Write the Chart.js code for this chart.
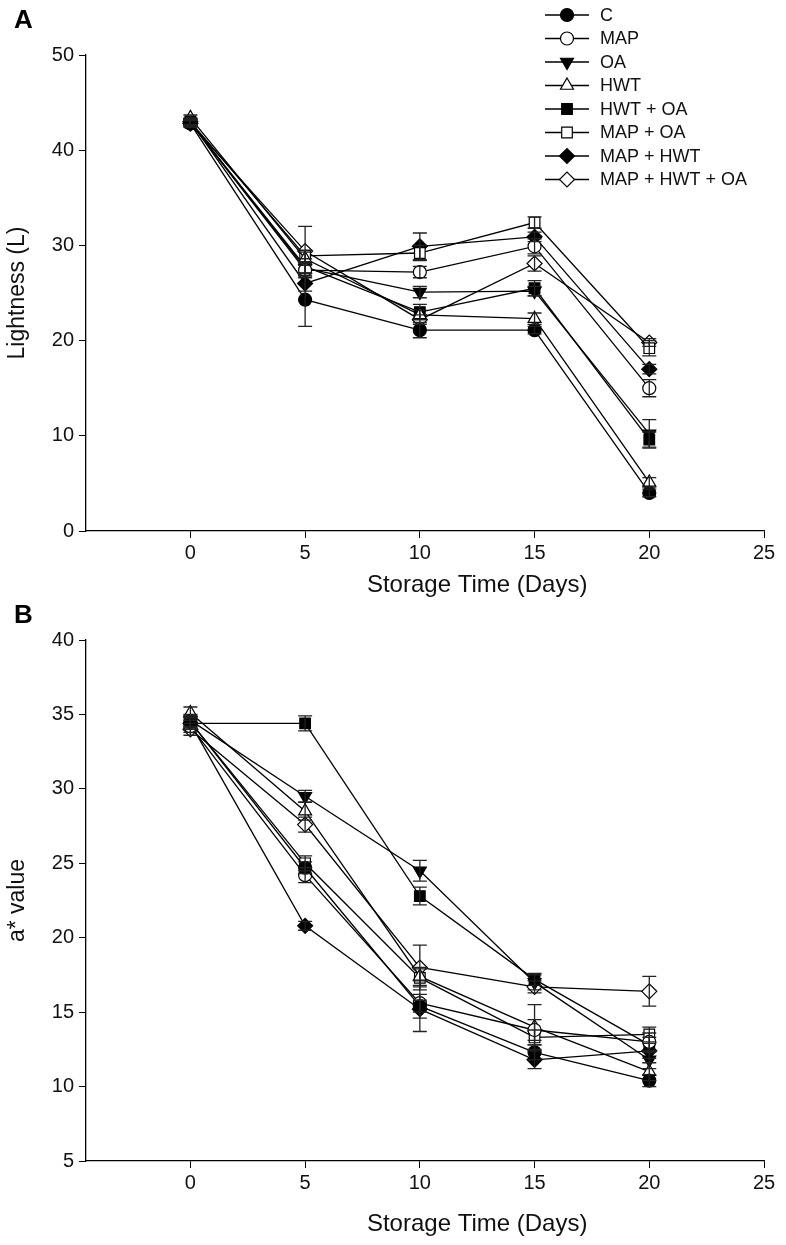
<!DOCTYPE html>
<html>
<head>
<meta charset="utf-8">
<script src="https://cdn.jsdelivr.net/npm/chart.js@4.4.1/dist/chart.umd.min.js"></script>
<style>
  body { margin: 0; background: #fff; }
  .panel { position: relative; width: 786px; }
  canvas { display: block; }
  .tag { position: absolute; left: 14px; font: bold 26px "Liberation Sans", Arial, sans-serif; color: #000; }
</style>
</head>
<body>
<div class="panel" style="height:600px">
  <div class="tag" style="top:4px">A</div>
  <canvas id="chartA" width="786" height="600" style="width:786px;height:600px"></canvas>
</div>
<div class="panel" style="height:645px">
  <div class="tag" style="top:-1px">B</div>
  <canvas id="chartB" width="786" height="645" style="width:786px;height:645px"></canvas>
</div>
<script>
// treatments and storage days
const treatments = ["C", "MAP", "OA", "HWT", "HWT + OA", "MAP + OA", "MAP + HWT", "MAP + HWT + OA"];
const days = [0, 5, 10, 15, 20];
const xTicks = [0, 5, 10, 15, 20, 25];

// Panel A - Lightness (L)
const lightC        = [42.8, 24.3, 21.1, 21.1, 4.0];
const lightMAP      = [42.9, 27.4, 27.2, 29.9, 15.0];
const lightOA       = [42.9, 27.6, 25.1, 25.2, 10.2];
const lightHWT      = [43.4, 28.6, 22.7, 22.3, 5.1];
const lightHWTOA    = [42.9, 27.8, 23.0, 25.5, 9.6];
const lightMAPOA    = [43.0, 28.9, 29.2, 32.4, 19.2];
const lightMAPHWT   = [43.0, 26.0, 29.9, 30.9, 17.0];
const lightMAPHWTOA = [42.8, 29.4, 22.2, 28.1, 19.8];

const lightErrC        = [0.4, 2.8, 0.8, 0.4, 0.4];
const lightErrMAP      = [0.3, 0.8, 0.6, 0.8, 0.9];
const lightErrOA       = [0.3, 0.5, 0.6, 0.5, 1.5];
const lightErrHWT      = [0.3, 0.7, 0.5, 0.6, 0.5];
const lightErrHWTOA    = [0.4, 0.8, 0.8, 0.8, 0.8];
const lightErrMAPOA    = [0.4, 0.6, 0.8, 0.6, 0.8];
const lightErrMAPHWT   = [0.3, 0.8, 1.4, 0.5, 0.5];
const lightErrMAPHWTOA = [0.3, 2.6, 0.5, 0.8, 0.4];

// Panel B - a* value
const aC        = [34.5, 24.7, 15.4, 12.3, 10.4];
const aMAP      = [34.2, 24.2, 15.6, 13.8, 13.0];
const aOA       = [34.6, 29.5, 24.5, 17.0, 11.8];
const aHWT      = [35.1, 28.5, 17.4, 14.0, 11.0];
const aHWTOA    = [34.4, 34.4, 22.8, 17.2, 12.8];
const aMAPOA    = [34.5, 25.0, 17.3, 13.3, 13.5];
const aMAPHWT   = [34.4, 20.8, 15.2, 11.8, 12.4];
const aMAPHWTOA = [34.0, 27.6, 18.0, 16.7, 16.4];

const aErrC        = [0.4, 0.4, 1.7, 0.5, 0.4];
const aErrMAP      = [0.4, 0.5, 0.6, 0.7, 0.6];
const aErrOA       = [0.4, 0.4, 0.7, 0.5, 0.6];
const aErrHWT      = [0.4, 0.6, 0.6, 1.5, 0.6];
const aErrHWTOA    = [0.4, 0.5, 0.6, 0.4, 0.5];
const aErrMAPOA    = [0.4, 0.5, 0.6, 0.5, 0.5];
const aErrMAPHWT   = [0.4, 0.3, 0.6, 0.6, 0.5];
const aErrMAPHWTOA = [0.4, 0.5, 1.5, 0.4, 1.0];

// marker look for each treatment
const markers = [
    { style: 'circle',   fill: '#000', rot: 0,   r: 6.5 },
    { style: 'circle',   fill: '#fff', rot: 0,   r: 6.5 },
    { style: 'triangle', fill: '#000', rot: 180, r: 7.5 },
    { style: 'triangle', fill: '#fff', rot: 0,   r: 7.5 },
    { style: 'rect',     fill: '#000', rot: 0,   r: 7.5 },
    { style: 'rect',     fill: '#fff', rot: 0,   r: 7.5 },
    { style: 'rectRot',  fill: '#000', rot: 0,   r: 7.5 },
    { style: 'rectRot',  fill: '#fff', rot: 0,   r: 7.5 }
];

const FONT = '"Liberation Sans", Arial, sans-serif';

// vertical error bars with caps, placed through the scales
const errorBars = {
    id: 'errorBars',
    afterDatasetsDraw(chart) {
        const ctx = chart.ctx;
        const xs = chart.scales.x, ys = chart.scales.y;
        ctx.save();
        ctx.strokeStyle = '#222';
        ctx.lineWidth = 1.3;
        chart.data.datasets.forEach(ds => {
            ds.data.forEach((p, i) => {
                const e = ds.errors[i];
                const x = xs.getPixelForValue(p.x);
                const top = ys.getPixelForValue(p.y + e);
                const bot = ys.getPixelForValue(p.y - e);
                ctx.beginPath();
                ctx.moveTo(x, top); ctx.lineTo(x, bot);
                ctx.moveTo(x - 7, top); ctx.lineTo(x + 7, top);
                ctx.moveTo(x - 7, bot); ctx.lineTo(x + 7, bot);
                ctx.stroke();
            });
        });
        ctx.restore();
    }
};

// x axis title centred over the 0-25 range
const xTitle = {
    id: 'xTitle',
    afterDraw(chart, args, opts) {
        const ctx = chart.ctx;
        const xs = chart.scales.x;
        const cx = (xs.getPixelForValue(xTicks[0]) + xs.getPixelForValue(xTicks[xTicks.length - 1])) / 2;
        ctx.save();
        ctx.fillStyle = '#111';
        ctx.font = '24px ' + FONT;
        ctx.textAlign = 'center';
        ctx.textBaseline = 'middle';
        ctx.fillText('Storage Time (Days)', cx, opts.y);
        ctx.restore();
    }
};

// legend with a short line through each marker
const lineLegend = {
    id: 'lineLegend',
    afterDraw(chart, args, opts) {
        if (!opts.show) return;
        const ctx = chart.ctx;
        ctx.save();
        chart.data.datasets.forEach((ds, i) => {
            const y = opts.top + i * 23.5;
            ctx.strokeStyle = '#000';
            ctx.lineWidth = 1.3;
            ctx.beginPath();
            ctx.moveTo(opts.left, y); ctx.lineTo(opts.left + 44, y);
            ctx.stroke();
            ctx.fillStyle = ds.pointBackgroundColor;
            ctx.lineWidth = 1.2;
            Chart.helpers.drawPoint(ctx, {
                pointStyle: ds.pointStyle, radius: ds.pointRadius, rotation: ds.pointRotation, borderWidth: 1.2
            }, opts.left + 22, y);
            ctx.fillStyle = '#111';
            ctx.font = '18px ' + FONT;
            ctx.textAlign = 'left';
            ctx.textBaseline = 'middle';
            ctx.fillText(ds.label, opts.left + 55, y + 1);
        });
        ctx.restore();
    }
};

function buildDatasets(values, errors) {
    return treatments.map((name, k) => ({
        label: name,
        data: days.map((d, i) => ({ x: d, y: values[k][i] })),
        errors: errors[k],
        showLine: true,
        borderColor: '#000',
        borderWidth: 1.3,
        pointStyle: markers[k].style,
        pointRotation: markers[k].rot,
        pointRadius: markers[k].r,
        pointBackgroundColor: markers[k].fill,
        pointBorderColor: '#000',
        pointBorderWidth: 1.2
    }));
}

function makeChart(id, values, errors, y, pad, xHeight, titleY, legend) {
    const tickFont = { family: FONT, size: 20 };
    return new Chart(document.getElementById(id), {
        type: 'scatter',
        data: { datasets: buildDatasets(values, errors) },
        options: {
            responsive: false,
            animation: false,
            devicePixelRatio: 1,
            layout: { padding: { top: pad.top, right: 22, left: 0, bottom: 0 } },
            plugins: {
                legend: { display: false },
                tooltip: { enabled: false },
                xTitle: { y: titleY },
                lineLegend: legend
            },
            scales: {
                x: {
                    type: 'linear', min: -4.55, max: 25,
                    afterBuildTicks: s => { s.ticks = xTicks.map(v => ({ value: v })); },
                    afterFit: s => { s.height = xHeight; },
                    grid: { drawOnChartArea: false, tickLength: 7, color: '#000' },
                    border: { color: '#000', width: 1.3 },
                    ticks: { font: tickFont, color: '#111', padding: 3, maxRotation: 0 }
                },
                y: {
                    min: y.min, max: y.max,
                    afterBuildTicks: s => { s.ticks = y.ticks.map(v => ({ value: v })); },
                    afterFit: s => { s.width = 86; },
                    grid: { drawOnChartArea: false, tickLength: 7, color: '#000' },
                    border: { color: '#000', width: 1.3 },
                    ticks: { font: tickFont, color: '#111', padding: 5 },
                    title: { display: true, text: y.title, font: { family: FONT, size: 23 }, color: '#111', padding: { top: 4, bottom: 0 } }
                }
            }
        },
        plugins: [errorBars, xTitle, lineLegend]
    });
}

const lightTicks = [0, 10, 20, 30, 40, 50];
const aTicks = [5, 10, 15, 20, 25, 30, 35, 40];

makeChart('chartA',
    [lightC, lightMAP, lightOA, lightHWT, lightHWTOA, lightMAPOA, lightMAPHWT, lightMAPHWTOA],
    [lightErrC, lightErrMAP, lightErrOA, lightErrHWT, lightErrHWTOA, lightErrMAPOA, lightErrMAPHWT, lightErrMAPHWTOA],
    { min: 0, max: 50, ticks: lightTicks, title: 'Lightness (L)' },
    { top: 55 }, 69, 585,
    { show: true, left: 545, top: 15 });

makeChart('chartB',
    [aC, aMAP, aOA, aHWT, aHWTOA, aMAPOA, aMAPHWT, aMAPHWTOA],
    [aErrC, aErrMAP, aErrOA, aErrHWT, aErrHWTOA, aErrMAPOA, aErrMAPHWT, aErrMAPHWTOA],
    { min: 5, max: 40, ticks: aTicks, title: 'a* value' },
    { top: 40 }, 84, 624,
    { show: false });
</script>
</body>
</html>
